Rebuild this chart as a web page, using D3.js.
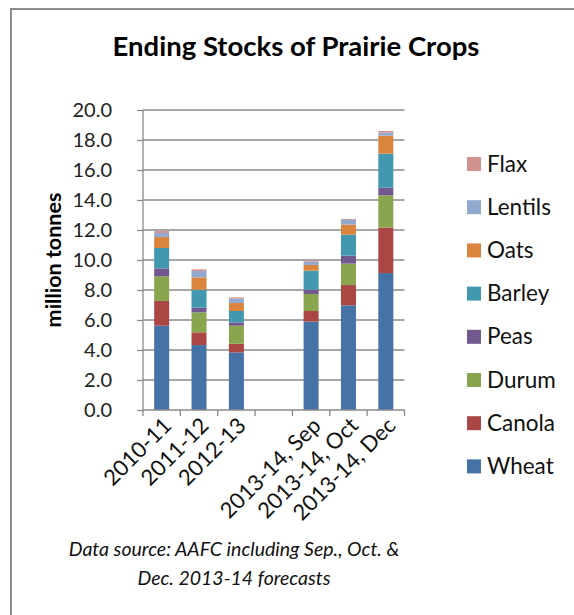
<!DOCTYPE html>
<html><head><meta charset="utf-8">
<script src="https://cdn.jsdelivr.net/npm/d3@7"></script>
<style>body{margin:0;background:#fff}svg{display:block}</style>
</head><body>
<svg id="c" width="574" height="615"></svg>
<script>
const categories = ["2010-11","2011-12","2012-13","(gap)","2013-14, Sep","2013-14, Oct","2013-14, Dec"];
const seriesNames = ["Wheat","Canola","Durum","Peas","Barley","Oats","Lentils","Flax"];
const wheat   = [5.62,4.33,3.84,null,5.89,6.98,9.13];
const canola  = [1.65,0.85,0.58,null,0.71,1.35,3.03];
const durum   = [1.64,1.33,1.20,null,1.13,1.43,2.15];
const peas    = [0.53,0.31,0.22,null,0.29,0.53,0.51];
const barley  = [1.36,1.20,0.76,null,1.27,1.40,2.27];
const oats    = [0.73,0.82,0.53,null,0.38,0.67,1.20];
const lentils = [0.27,0.43,0.31,null,0.22,0.31,0.20];
const flax    = [0.13,0.11,0.07,null,0.07,0.06,0.11];
const yTicks = [0,2,4,6,8,10,12,14,16,18,20];
const colors = ["#4572A7","#AA4643","#89A54E","#71588F","#4198AF","#DB843D","#93A9CF","#D19392"];

const seriesValues = [wheat,canola,durum,peas,barley,oats,lentils,flax];
const rows = categories.map((c,i)=>{const r={cat:c};seriesNames.forEach((s,j)=>r[s]=seriesValues[j][i]||0);return r;});
const stack = d3.stack().keys(seriesNames)(rows);

const svg = d3.select("#c");
const font = "Lato, 'Open Sans', sans-serif";
// frame
svg.append("path").attr("d","M11,615 V9 H574").attr("fill","none").attr("stroke","#8c8c8c").attr("stroke-width",2);

const xOuter = d3.scaleBand().domain(categories).range([143,404.5]);
const y = d3.scaleLinear().domain([0,20]).range([410,110]);

// gridlines
svg.append("g").selectAll("line").data(yTicks.filter(d=>d>0)).join("line")
  .attr("x1",143).attr("x2",404.5).attr("y1",d=>y(d)).attr("y2",d=>y(d))
  .attr("stroke","#8a8a8a").attr("stroke-width",1.3);

// bars
svg.append("g").selectAll("g").data(stack).join("g").attr("fill",(d,i)=>colors[i])
  .selectAll("rect").data(d=>d.filter(p=>p[1]-p[0]>0)).join("rect")
  .attr("x",d=>xOuter(d.data.cat)+xOuter.bandwidth()/2-7.5).attr("width",15)
  .attr("y",d=>y(d[1])).attr("height",d=>y(d[0])-y(d[1]));

// y axis
const ya = svg.append("g").attr("transform","translate(143,0)")
  .call(d3.axisLeft(y).tickValues(yTicks).tickFormat(d3.format(".1f")).tickSize(6).tickPadding(25));
ya.select(".domain").attr("stroke","#8a8a8a").attr("stroke-width",1.3).attr("d","M0,110V410");
ya.selectAll(".tick line").attr("stroke","#8a8a8a").attr("stroke-width",1.3);
ya.selectAll("text").attr("font-family",font).attr("font-size",20).attr("fill","#222");

// x axis
const xa = svg.append("g").attr("transform","translate(0,410)")
  .call(d3.axisBottom(xOuter).tickSize(0).tickFormat(d=>d==="(gap)"?"":d));
xa.select(".domain").attr("stroke","#8a8a8a").attr("stroke-width",1.3).attr("d","M143,0H404.5");
xa.selectAll(".tick line").remove();
xa.selectAll(".tick").append("line").attr("x1",xOuter.bandwidth()/2).attr("x2",xOuter.bandwidth()/2)
  .attr("y1",0).attr("y2",6).attr("stroke","#8a8a8a").attr("stroke-width",1.3);
svg.append("line").attr("x1",143).attr("x2",143).attr("y1",410).attr("y2",416).attr("stroke","#8a8a8a").attr("stroke-width",1.3);
xa.selectAll(".tick text").attr("font-family",font).attr("font-size",22).attr("fill","#111")
  .attr("text-anchor","end").attr("dy",0).attr("y",0)
  .attr("transform","translate(11,17) rotate(-45)");

// title
svg.append("text").attr("x",296).attr("y",56).attr("text-anchor","middle")
  .attr("font-family",font).attr("font-weight","bold").attr("font-size",27.5).attr("fill","#000")
  .text("Ending Stocks of Prairie Crops");
// y label
svg.append("text").attr("transform","translate(61,260) rotate(-90)").attr("text-anchor","middle")
  .attr("font-family",font).attr("font-weight","bold").attr("font-size",21.5).attr("fill","#000")
  .text("million tonnes");

// legend
const legendOrder = seriesNames.slice().reverse();
const lg = svg.append("g").selectAll("g").data(legendOrder).join("g")
  .attr("transform",(d,i)=>`translate(467,${164+i*43.2})`);
lg.append("rect").attr("x",0).attr("y",-7).attr("width",14).attr("height",14)
  .attr("fill",d=>colors[seriesNames.indexOf(d)]);
lg.append("text").attr("x",20).attr("y",7.5).attr("font-family",font).attr("font-size",22.5).attr("fill","#111").text(d=>d);

// source
const src = svg.append("text").attr("text-anchor","middle").attr("font-family",font)
  .attr("font-style","italic").attr("font-size",19.5).attr("fill","#111");
src.append("tspan").attr("x",234).attr("y",556).text("Data source: AAFC including Sep., Oct. &");
src.append("tspan").attr("x",234).attr("y",585).text("Dec. 2013-14 forecasts");
</script>
</body></html>
